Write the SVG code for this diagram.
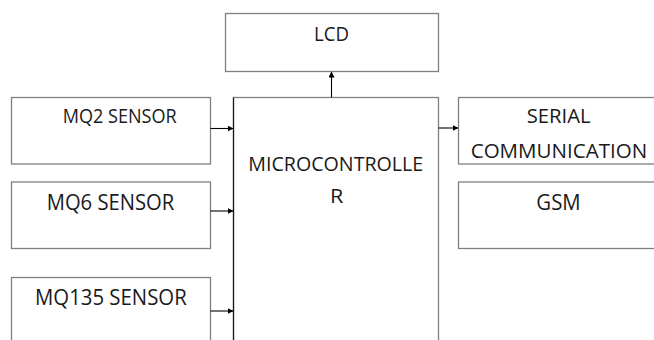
<svg xmlns="http://www.w3.org/2000/svg" width="654" height="340" viewBox="0 0 654 340">
  <style>
    .box { fill: #ffffff; stroke: #808080; stroke-width: 1.3; }
    .lbl { font-family: "Open Sans", "Liberation Sans", sans-serif; font-size: 20px; fill: #1a1a1a; }
    .big { font-size: 21px; }
    .wire { stroke: #000000; stroke-width: 1.1; fill: none; marker-end: url(#head); }
  </style>
  <defs>
    <marker id="head" markerWidth="6" markerHeight="6" refX="5.5" refY="3" orient="auto" markerUnits="userSpaceOnUse">
      <path d="M0,0 L6,3 L0,6 Z" fill="#000000"/>
    </marker>
  </defs>
  <rect width="654" height="340" fill="#ffffff"/>

  <g id="lcd">
    <rect class="box" x="225.5" y="13.5" width="213" height="58"/>
    <text class="lbl" x="314" y="41" textLength="35" lengthAdjust="spacingAndGlyphs">LCD</text>
  </g>

  <g id="microcontroller">
    <rect class="box" x="233.5" y="97.5" width="205" height="260"/>
    <line x1="233.5" y1="97.5" x2="233.5" y2="340" stroke="#1a1a1a" stroke-width="1.2"/>
    <text class="lbl" x="248.3" y="171" textLength="175" lengthAdjust="spacingAndGlyphs">MICROCONTROLLE</text>
    <text class="lbl" x="330" y="202.5" textLength="13.3" lengthAdjust="spacingAndGlyphs">R</text>
  </g>

  <g id="mq2">
    <rect class="box" x="11.5" y="97.5" width="199" height="66.5"/>
    <text class="lbl" x="62.7" y="123" textLength="114" lengthAdjust="spacingAndGlyphs">MQ2 SENSOR</text>
  </g>

  <g id="mq6">
    <rect class="box" x="11.5" y="182" width="199" height="66.5"/>
    <text class="lbl big" x="46.7" y="210" textLength="127.6" lengthAdjust="spacingAndGlyphs">MQ6 SENSOR</text>
  </g>

  <g id="mq135">
    <rect class="box" x="11.5" y="277.5" width="199" height="80"/>
    <text class="lbl big" x="35" y="305" textLength="151.7" lengthAdjust="spacingAndGlyphs">MQ135 SENSOR</text>
  </g>

  <g id="serial">
    <rect class="box" x="458.5" y="97.5" width="210" height="66.5"/>
    <text class="lbl" x="526.7" y="123" textLength="64" lengthAdjust="spacingAndGlyphs">SERIAL</text>
    <text class="lbl" x="470.7" y="158.3" textLength="176.6" lengthAdjust="spacingAndGlyphs">COMMUNICATION</text>
  </g>

  <g id="gsm">
    <rect class="box" x="458.5" y="182" width="210" height="66.5"/>
    <text class="lbl big" x="536.3" y="210" textLength="44.4" lengthAdjust="spacingAndGlyphs">GSM</text>
  </g>

  <g id="connectors">
    <line class="wire" x1="331.5" y1="97.5" x2="331.5" y2="72"/>
    <line class="wire" x1="210.5" y1="128.5" x2="233" y2="128.5"/>
    <line class="wire" x1="210.5" y1="211" x2="233" y2="211"/>
    <line class="wire" x1="210.5" y1="311" x2="233" y2="311"/>
    <line class="wire" x1="438.5" y1="128" x2="458" y2="128"/>
  </g>
</svg>
